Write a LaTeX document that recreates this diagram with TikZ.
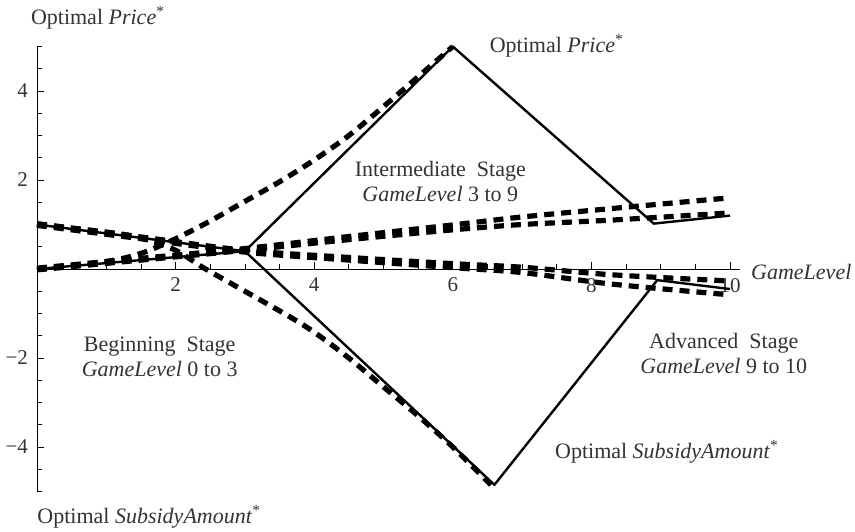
\documentclass[tikz,border=0pt]{standalone}
\usepackage{fontspec}
\setmainfont{Liberation Serif}
\usetikzlibrary{positioning,calc}

\begin{document}
\begin{tikzpicture}[x=34.65pt,y=22.25pt,
        sol/.style={line width=1.2pt,line join=round},
        dsh/.style={line width=2.6pt,dash pattern=on 5pt off 3.5pt},
        lbl/.style={text=black!80,font=\fontsize{11}{12.5}\selectfont,align=center},
        tck/.style={text=black!80,font=\fontsize{10.5}{12}\selectfont}]
        \useasboundingbox (-18.5pt,-131pt) rectangle (409pt,134.5pt);

        \draw[line width=0.5pt] (0,0) -- (10.15,0);
        \draw[line width=0.5pt] (0,-5) -- (0,5);
        \foreach \x in {0.5,1,...,10}
            {
                \draw[line width=0.4pt] (\x,0) -- ++(0,2.5pt);
            }
        \foreach \y in {-5,-4.5,...,5}
            {
                \draw[line width=0.4pt] (0,\y) -- ++(2.5pt,0);
            }
        \foreach \x in {2,4,...,10}
            {
                \draw[line width=0.4pt] (\x,0) -- ++(0,3.5pt);
                \node[tck,below=1pt] (X\x) at (\x,0) {\x};
            }
        \foreach \y/\t in {-4/−4,-2/−2,2/2,4/4}
            {
                \draw[line width=0.4pt] (0,\y) -- ++(3.5pt,0);
                \node[tck,left=1pt] (Y\y) at (0,\y) {\t};
            }

        \draw[dsh] plot[smooth] coordinates {(0,0.02) (1.5,0.24) (3,0.46) (4.5,0.73) (6,0.99) (7,1.17) (8.3,1.36) (10,1.6)};
        \draw[dsh] plot[smooth] coordinates {(0,-0.02) (1.5,0.2) (3,0.42) (4.5,0.66) (6,0.88) (7,1.0) (8.3,1.1) (10,1.26)};
        \draw[dsh] plot[smooth] coordinates {(0,1.02) (1.5,0.72) (3,0.42) (4.5,0.26) (6,0.12) (7,0.04) (8.3,-0.13) (10,-0.27)};
        \draw[dsh] plot[smooth] coordinates {(0,0.98) (1.5,0.68) (3,0.38) (4.5,0.2) (6,0.03) (7,-0.08) (8.3,-0.34) (10,-0.58)};
        \draw[dsh] plot[smooth] coordinates {(0,0) (1,0.17) (1.5,0.35) (2,0.68) (2.5,1.08) (3,1.52) (3.5,1.96) (4,2.45) (4.5,3.0) (5,3.65) (5.5,4.32) (6,5)};
        \draw[dsh] plot[smooth] coordinates {(0,1) (1,0.83) (1.5,0.7) (2,0.42) (2.4,0.03) (3,-0.5) (3.6,-1.03) (4,-1.42) (4.5,-2.0) (5,-2.65) (5.5,-3.3) (6,-4.0) (6.55,-4.85)};

        \draw[sol] (0,0) -- (3,0.4) -- (6,5) -- (8.9,1.02) -- (10,1.2);
        \draw[sol] (0,1) -- (3,0.4) -- (6.6,-4.85) -- (8.95,-0.25) -- (10,-0.45);

        \node[lbl] (priceTop) at (0.88,5.64) {Optimal \textit{Price}\textsuperscript{*}};
        \node[lbl] (priceEnd) at (7.5,5.01) {Optimal \textit{Price}\textsuperscript{*}};
        \node[lbl] (subEnd) at (9.09,-4.11) {Optimal \textit{SubsidyAmount}\textsuperscript{*}};
        \node[lbl] (subBottom) at (1.62,-5.57) {Optimal \textit{SubsidyAmount}\textsuperscript{*}};
        \node[lbl,anchor=west,inner sep=0pt] (gameLevel) at (10.3,-0.06) {\textit{GameLevel}};
        \node[lbl] (stageBeg) at (1.77,-1.98) {Beginning\ \ Stage\\\textit{GameLevel} 0 to 3};
        \node[lbl] (stageMid) at (5.82,1.96) {Intermediate\ \ Stage\\\textit{GameLevel} 3 to 9};
        \node[lbl] (stageAdv) at (9.91,-1.89) {Advanced\ \ Stage\\\textit{GameLevel} 9 to 10};
    \end{tikzpicture}
\end{document}
